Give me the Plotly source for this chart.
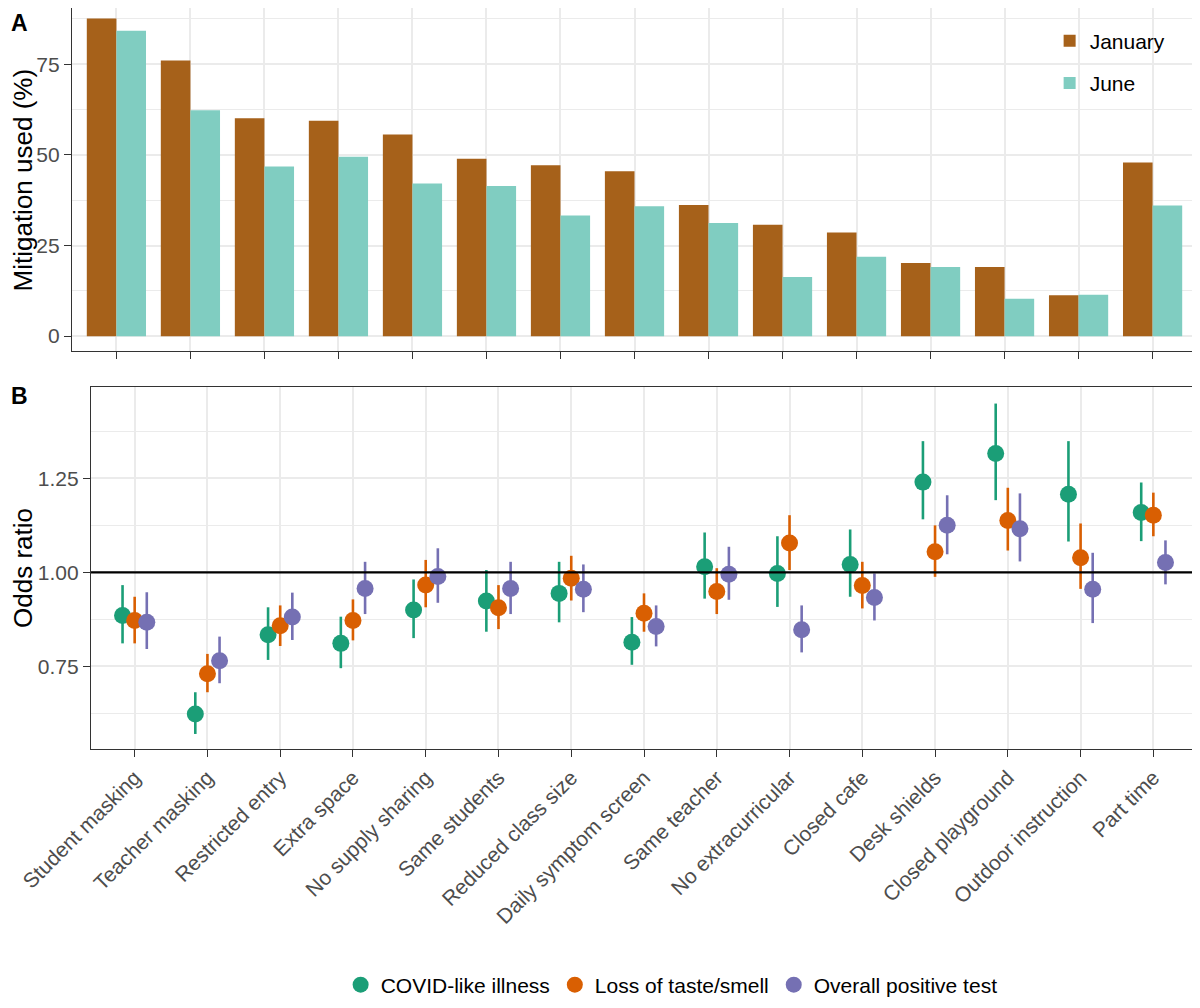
"""
School mitigation use (A) and odds ratios by outcome (B), two stacked panels.
"""
import plotly.graph_objects as go

CATEGORIES = [
    "Student masking", "Teacher masking", "Restricted entry", "Extra space",
    "No supply sharing", "Same students", "Reduced class size",
    "Daily symptom screen", "Same teacher", "No extracurricular", "Closed cafe",
    "Desk shields", "Closed playground", "Outdoor instruction", "Part time",
]

# panel A: % of respondents using each mitigation
JANUARY = [87.6, 76.0, 60.1, 59.4, 55.6, 48.9, 47.1, 45.5, 36.2, 30.7, 28.6, 20.2, 19.1, 11.3, 47.9]
JUNE = [84.2, 62.3, 46.8, 49.5, 42.1, 41.4, 33.3, 35.8, 31.2, 16.3, 21.9, 19.1, 10.3, 11.4, 36.0]

# panel B: odds ratios with 95% intervals
COVID_OR = [0.885, 0.623, 0.834, 0.811, 0.900, 0.924, 0.944, 0.814, 1.015, 0.997, 1.021, 1.240, 1.316, 1.208, 1.159]
COVID_LO = [0.811, 0.570, 0.767, 0.745, 0.825, 0.842, 0.867, 0.754, 0.930, 0.908, 0.935, 1.141, 1.192, 1.082, 1.083]
COVID_HI = [0.966, 0.681, 0.907, 0.882, 0.981, 1.006, 1.028, 0.881, 1.106, 1.096, 1.114, 1.349, 1.449, 1.349, 1.239]
TASTE_OR = [0.872, 0.730, 0.858, 0.872, 0.966, 0.906, 0.984, 0.891, 0.949, 1.078, 0.965, 1.055, 1.138, 1.039, 1.152]
TASTE_LO = [0.811, 0.681, 0.804, 0.819, 0.907, 0.849, 0.925, 0.842, 0.889, 1.006, 0.904, 0.988, 1.058, 0.956, 1.096]
TASTE_HI = [0.935, 0.783, 0.912, 0.928, 1.033, 0.966, 1.044, 0.944, 1.011, 1.152, 1.028, 1.125, 1.225, 1.130, 1.212]
TEST_OR = [0.867, 0.765, 0.881, 0.957, 0.989, 0.957, 0.955, 0.856, 0.995, 0.847, 0.933, 1.125, 1.116, 0.955, 1.026]
TEST_LO = [0.796, 0.705, 0.820, 0.889, 0.919, 0.889, 0.894, 0.803, 0.927, 0.787, 0.872, 1.048, 1.029, 0.865, 0.968]
TEST_HI = [0.947, 0.829, 0.946, 1.028, 1.064, 1.028, 1.021, 0.912, 1.068, 0.912, 0.997, 1.205, 1.210, 1.052, 1.085]

FONT = "Liberation Sans, Arial, sans-serif"
GRID = "#EBEBEB"
FRAME = "#333333"
TICK_TXT = "#4D4D4D"

OUTCOMES = [
    ("COVID-like illness", COVID_OR, COVID_LO, COVID_HI, "#1B9E77"),
    ("Loss of taste/smell", TASTE_OR, TASTE_LO, TASTE_HI, "#D95F02"),
    ("Overall positive test", TEST_OR, TEST_LO, TEST_HI, "#7570B3"),
]

A_DOMAIN = [0.5371, 1]
B_DOMAIN = [0, 0.4885]

fig = go.Figure()

for name, vals, col in [("January", JANUARY, "#A6611A"), ("June", JUNE, "#80CDC1")]:
    fig.add_trace(go.Bar(
        x=CATEGORIES, y=vals, name=name, marker=dict(color=col, line=dict(width=0)),
        xaxis="x", yaxis="y", legend="legend2", legendgroup=name,
    ))

for name, est, lo, hi, col in OUTCOMES:
    fig.add_trace(go.Scatter(
        x=CATEGORIES, y=est, name=name, mode="markers",
        marker=dict(color=col, size=17),
        error_y=dict(
            type="data", symmetric=False,
            array=[h - e for h, e in zip(hi, est)],
            arrayminus=[e - l for e, l in zip(est, lo)],
            color=col, thickness=2.6, width=0,
        ),
        offsetgroup=name, xaxis="x2", yaxis="y2", legend="legend",
    ))

axis_common = dict(
    showline=True, mirror=True, linecolor=FRAME, linewidth=1.2,
    gridcolor=GRID, gridwidth=1.6, zeroline=False, automargin=False,
    ticks="outside", ticklen=7, tickwidth=1.3, tickcolor=FRAME,
    tickfont=dict(family=FONT, size=21, color=TICK_TXT),
)


def side_title(text, domain):
    # y-axis titles as rotated annotations so both panels line up at the same x
    return dict(
        text=text, xref="paper", yref="paper", x=-0.0436, y=sum(domain) / 2,
        xanchor="center", yanchor="middle", textangle=-90, showarrow=False,
        font=dict(family=FONT, size=26, color="black"),
    )


# the page body adds an 8px margin, so the figure is 8px smaller each way
fig.update_layout(
    template="none",
    width=1192, height=1000,
    paper_bgcolor="white", plot_bgcolor="white",
    margin=dict(l=64, r=3, t=0, b=259, autoexpand=False),
    font=dict(family=FONT, size=21, color="black"),
    barmode="group", bargap=0.2, bargroupgap=0,
    scattermode="group", scattergap=0.5,
    xaxis=dict(
        **axis_common, domain=[0, 1], type="category",
        range=[-0.6, 14.6], showticklabels=False, anchor="y",
    ),
    yaxis=dict(
        **axis_common, domain=A_DOMAIN, range=[-4.1, 90.5],
        tickvals=[0, 25, 50, 75], anchor="x",
        minor=dict(tickvals=[12.5, 37.5, 62.5, 87.5], gridcolor=GRID, gridwidth=0.8, ticks=""),
    ),
    xaxis2=dict(
        **axis_common, domain=[0.0169, 1], type="category",
        range=[-0.6, 14.6], tickangle=-45, anchor="y2",
    ),
    yaxis2=dict(
        **axis_common, domain=B_DOMAIN, range=[0.530, 1.493],
        tickvals=[0.75, 1.0, 1.25], ticktext=["0.75", "1.00", "1.25"], anchor="x2",
        minor=dict(tickvals=[0.625, 0.875, 1.125, 1.375], gridcolor=GRID, gridwidth=0.8, ticks=""),
    ),
    legend=dict(
        orientation="h", x=0.533, xanchor="center", y=-0.3185, yanchor="middle",
        font=dict(family=FONT, size=21, color="black"), bgcolor="rgba(0,0,0,0)",
    ),
    legend2=dict(
        x=0.869, xanchor="left", y=0.983, yanchor="top", tracegroupgap=12,
        font=dict(family=FONT, size=21, color="black"), bgcolor="rgba(0,0,0,0)",
    ),
    shapes=[dict(
        type="line", xref="x2 domain", yref="y2", x0=0, x1=1, y0=1, y1=1,
        line=dict(color="black", width=2.4), layer="above",
    )],
    annotations=[
        side_title("Mitigation used (%)", A_DOMAIN),
        side_title("Odds ratio", B_DOMAIN),
        dict(text="<b>A</b>", xref="paper", yref="paper", x=-0.056, y=1.0,
             xanchor="left", yanchor="top", showarrow=False,
             font=dict(family=FONT, size=23, color="black")),
        dict(text="<b>B</b>", xref="paper", yref="paper", x=-0.056, y=0.4764,
             xanchor="left", yanchor="middle", showarrow=False,
             font=dict(family=FONT, size=23, color="black")),
    ],
)

fig.write_html("out.html")
